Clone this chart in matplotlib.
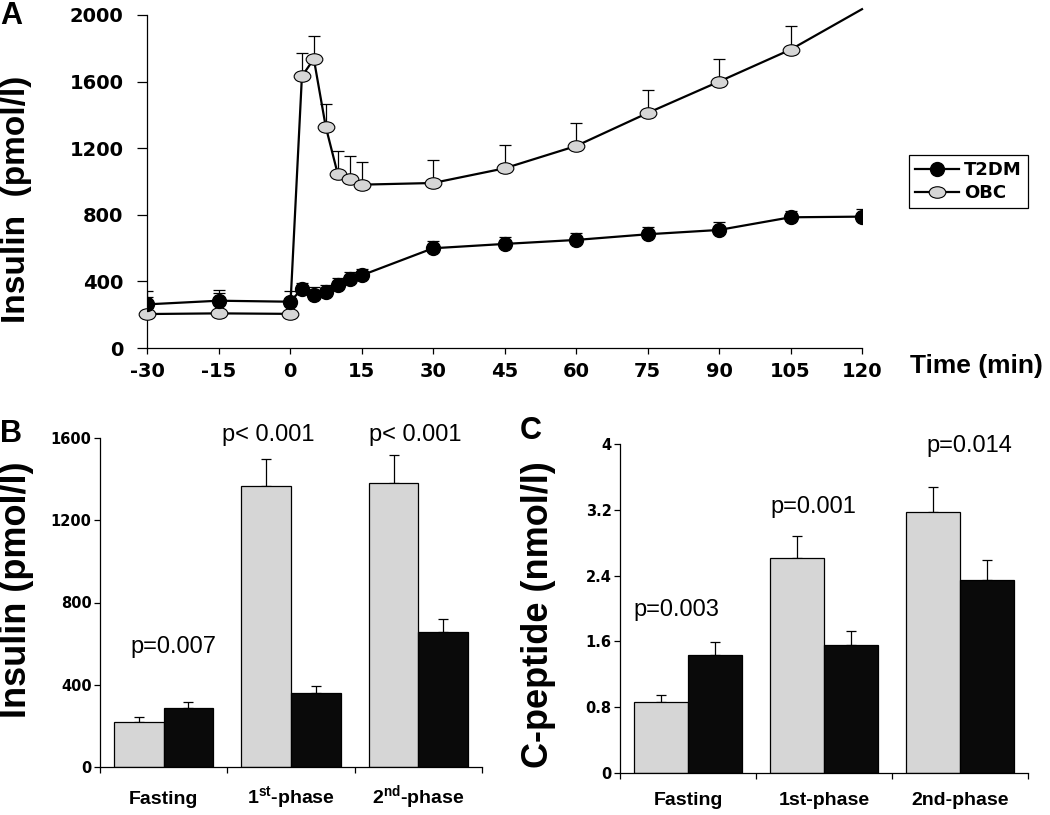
"""
Insulin / C-peptide during hyperglycaemic clamp: T2DM vs OBC
"""
import matplotlib
matplotlib.use('Agg')

import numpy as np
import matplotlib.pyplot as plt
from matplotlib.path import Path

plt.rcParams['font.family'] = ['Liberation Sans', 'DejaVu Sans']
plt.rcParams['mathtext.fontset'] = 'custom'
plt.rcParams['mathtext.rm'] = 'Liberation Sans'
plt.rcParams['mathtext.bf'] = 'Liberation Sans:bold'
plt.rcParams['axes.unicode_minus'] = False

# panel A - time course
time = [-30, -15, 0, 2.5, 5, 7.5, 10, 12.5, 15, 30, 45, 60, 75, 90, 105, 120]
t2dm = [262, 284, 278, 354, 318, 334, 378, 416, 436, 599, 625, 649, 683, 709, 785, 789]
t2dm_err = [80, 64, 64, 36, 46, 44, 44, 42, 40, 45, 42, 42, 46, 46, 40, 44]
obc = [204, 208, 205, 1632, 1736, 1329, 1047, 1015, 981, 991, 1079, 1213, 1411, 1600, 1792, 2035]
obc_err = [100, 120, 60, 140, 140, 136, 136, 136, 138, 136, 138, 138, 139, 134, 140, 0]
time_ticks = [-30, -15, 0, 15, 30, 45, 60, 75, 90, 105, 120]

# panels B and C - phases
phases = ['Fasting', r'1$^{\mathbf{st}}$-phase', r'2$^{\mathbf{nd}}$-phase']
phases_c = ['Fasting', '1st-phase', '2nd-phase']
ins_obc = [219, 1366, 1381]
ins_obc_err = [22, 134, 137]
ins_t2dm = [289, 361, 655]
ins_t2dm_err = [28, 34, 63]
ins_p = ['p=0.007', 'p< 0.001', 'p< 0.001']
cpep_obc = [0.86, 2.62, 3.17]
cpep_obc_err = [0.09, 0.26, 0.31]
cpep_t2dm = [1.43, 1.56, 2.35]
cpep_t2dm_err = [0.16, 0.17, 0.24]
cpep_p = ['p=0.003', 'p=0.001', 'p=0.014']

W, H = 1050, 815
fig = plt.figure(figsize=(W / 100, H / 100), dpi=100)


def rect(x0, y0, x1, y1):
    # pixel box (top-left origin) -> figure fraction
    return [x0 / W, 1 - y1 / H, (x1 - x0) / W, (y1 - y0) / H]


def clean(ax):
    for s in ['top', 'right']:
        ax.spines[s].set_visible(False)
    for s in ['left', 'bottom']:
        ax.spines[s].set_linewidth(0.9)


LIGHT = '#d6d6d6'
DARK = '#0a0a0a'

# ---------------- A
ax = fig.add_axes(rect(147, 15, 862, 348))
clean(ax)
circ = Path.unit_circle()
ell = Path(circ.vertices * [1.45, 1.0], circ.codes)

ax.errorbar(time, obc, yerr=[np.zeros(len(obc)), obc_err], fmt='none',
            ecolor='k', elinewidth=0.9, capsize=4, capthick=0.9, zorder=2)
ax.errorbar(time, t2dm, yerr=[np.zeros(len(t2dm)), t2dm_err], fmt='none',
            ecolor='k', elinewidth=0.9, capsize=4, capthick=0.9, zorder=2)
ax.plot(time, obc, color='k', lw=1.6, marker=ell, ms=12, mfc=LIGHT, mec='k',
        mew=0.8, markevery=list(range(len(time) - 1)), clip_on=False,
        zorder=3, label='OBC')
ax.plot(time, t2dm, color='k', lw=1.6, marker='o', ms=10, mfc='k', mec='k',
        zorder=4, label='T2DM')

ax.set_xlim(-30, 120)
ax.set_ylim(0, 2000)
ax.set_xticks(time_ticks)
ax.set_yticks([0, 400, 800, 1200, 1600, 2000])
ax.tick_params(axis='y', direction='out', length=7, width=0.9, pad=10)
ax.tick_params(axis='x', direction='out', length=4, width=0.9, pad=6)
for lab in ax.get_xticklabels() + ax.get_yticklabels():
    lab.set_fontfamily('DejaVu Sans')
    lab.set_fontweight('bold')
    lab.set_fontsize(14)

h, l = ax.get_legend_handles_labels()
leg = fig.legend(h[::-1], l[::-1], loc='upper left',
                 bbox_to_anchor=(909 / W, 1 - 155 / H), frameon=True,
                 fancybox=False, framealpha=1, edgecolor='k',
                 handlelength=2.4, borderpad=0.35, labelspacing=0.25,
                 handletextpad=0.3, borderaxespad=0,
                 prop={'family': 'DejaVu Sans', 'weight': 'bold', 'size': 13})
leg.get_frame().set_linewidth(0.9)

fig.text(910 / W, 1 - 366 / H, 'Time (min)', ha='left', va='center',
         fontsize=19, fontweight='bold')
fig.text(17 / W, 1 - 199 / H, 'Insulin  (pmol/l)', rotation=90,
         ha='center', va='center', fontsize=24, fontweight='bold')
fig.text(0 / W, 1 - 16 / H, 'A', ha='left', va='center', fontsize=22,
         fontweight='bold')


# ---------------- bar panels
def bar_panel(ax, a, a_err, b, b_err, labels, width, lab_pad):
    clean(ax)
    x = np.arange(len(a)) + 0.5
    ax.bar(x - width / 2, a, width, color=LIGHT, edgecolor='k', lw=0.9,
           zorder=2)
    ax.bar(x + width / 2, b, width, color=DARK, edgecolor='k', lw=0.9,
           zorder=2)
    ax.errorbar(x - width / 2, a, yerr=[np.zeros(len(a)), a_err], fmt='none',
                ecolor='k', elinewidth=0.9, capsize=3.5, capthick=0.9,
                zorder=1)
    ax.errorbar(x + width / 2, b, yerr=[np.zeros(len(b)), b_err], fmt='none',
                ecolor='k', elinewidth=0.9, capsize=3.5, capthick=0.9,
                zorder=1)
    ax.set_xlim(0, len(a))
    ax.set_xticks(np.arange(len(a) + 1))
    ax.set_xticklabels([])
    ax.set_xticks(x, labels, minor=True)
    ax.tick_params(axis='x', which='major', direction='out', length=4,
                   width=0.9)
    ax.tick_params(axis='x', which='minor', length=0, pad=lab_pad,
                   labelsize=14)
    ax.tick_params(axis='y', direction='out', length=4, width=0.9, pad=2)
    for lab in ax.get_xticklabels(minor=True):
        lab.set_fontweight('bold')
        lab.set_verticalalignment('baseline')


axb = fig.add_axes(rect(100, 438, 482, 767))
bar_panel(axb, ins_obc, ins_obc_err, ins_t2dm, ins_t2dm_err, phases, 0.39, 27)
axb.set_ylim(0, 1600)
axb.set_yticks([0, 400, 800, 1200, 1600])
for lab in axb.get_yticklabels():
    lab.set_fontfamily('DejaVu Sans')
    lab.set_fontweight('bold')
    lab.set_fontsize(10.5)
for xp, yp, s in zip([0.574, 1.32, 2.476], [585, 1617, 1617], ins_p):
    axb.text(xp, yp, s, ha='center', va='center', fontsize=17)
fig.text(17 / W, 1 - 590 / H, 'Insulin (pmol/l)', rotation=90,
         ha='center', va='center', fontsize=26, fontweight='bold')
fig.text(0 / W, 1 - 434 / H, 'B', ha='left', va='center', fontsize=22,
         fontweight='bold')

axc = fig.add_axes(rect(620, 444, 1028, 773))
bar_panel(axc, cpep_obc, cpep_obc_err, cpep_t2dm, cpep_t2dm_err, phases_c,
          0.40, 23)
axc.set_ylim(0, 4)
axc.set_yticks([0, 0.8, 1.6, 2.4, 3.2, 4])
axc.set_yticklabels(['0', '0.8', '1.6', '2.4', '3.2', '4'])
for lab in axc.get_yticklabels():
    lab.set_fontfamily('DejaVu Sans')
    lab.set_fontweight('bold')
    lab.set_fontsize(10.5)
for xp, yp, s in zip([0.417, 1.42, 2.57], [1.98, 3.23, 3.976], cpep_p):
    axc.text(xp, yp, s, ha='center', va='center', fontsize=17)
fig.text(538 / W, 1 - 615 / H, 'C-peptide (nmol/l)', rotation=90,
         ha='center', va='center', fontsize=26, fontweight='bold')
fig.text(520 / W, 1 - 431 / H, 'C', ha='left', va='center', fontsize=22,
         fontweight='bold')

fig.savefig('out.png', dpi=100)
